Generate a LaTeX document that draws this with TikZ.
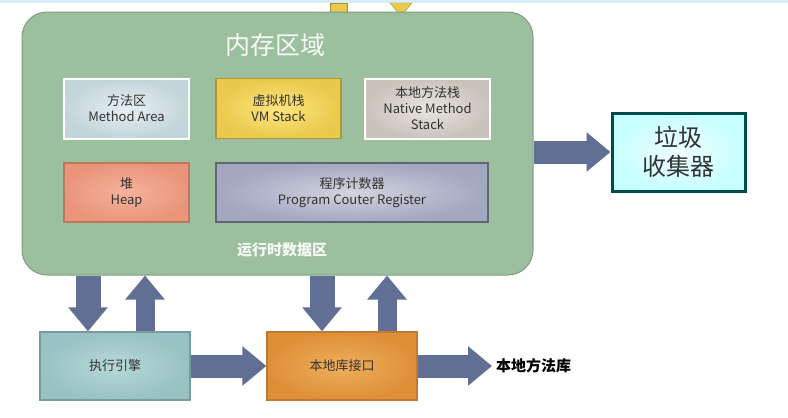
\documentclass[tikz,border=0pt]{standalone}
\usepackage{fontspec}
\setmainfont{Liberation Sans}
\newfontfamily\cjk{Noto Sans CJK SC}
\usetikzlibrary{arrows.meta,positioning}

\definecolor{memgreen}{HTML}{9CBF9E}
\definecolor{memedge}{HTML}{7F9C82}
\definecolor{arrowc}{HTML}{626F95}
\definecolor{topline}{HTML}{D6EEF8}
\definecolor{stubyel}{HTML}{E9CA4C}
\definecolor{areain}{HTML}{E6EFF1}
\definecolor{areaout}{HTML}{C3D5DA}
\definecolor{natin}{HTML}{E8E4DF}
\definecolor{natout}{HTML}{C9C3BC}
\definecolor{heapin}{HTML}{F4B39C}
\definecolor{heapout}{HTML}{EA957A}
\definecolor{pcin}{HTML}{D3D4DE}
\definecolor{pcout}{HTML}{A3A7C0}
\definecolor{ifin}{HTML}{EEAE5C}
\definecolor{ifout}{HTML}{DE9038}
\definecolor{engin}{HTML}{B6D8D8}
\definecolor{engout}{HTML}{98C2C3}

\begin{document}
\begin{tikzpicture}[x=1pt,y=-1pt,
  box/.style={draw, line width=1.2pt, minimum width=125pt, minimum height=60pt,
    align=center, text=black!80, font=\cjk\fontsize{13}{16}\selectfont},
  fat/.style={draw=arrowc, line width=#1, -{Triangle[width=38pt,length=24pt]}},
  fat/.default=23pt
]
  \useasboundingbox (0,0) rectangle (788,418);

  % screen edge and the cut-off shapes above
  \fill[topline] (0,0) rectangle (788,3);
  \filldraw[fill=stubyel, draw=stubyel!70!black] (330,3) rectangle (347,14);
  \filldraw[fill=stubyel, draw=stubyel!70!black] (390,3) -- (412,3) -- (401,16) -- cycle;

  % memory area
  \node[draw=memedge, fill=memgreen, line width=1pt, rounded corners=25pt,
        minimum width=511pt, minimum height=263pt] (memory) at (277.5,143.5) {};
  \node[text=white!92!memgreen, font=\cjk\fontsize{25}{29}\selectfont] (title) at (275,45) {内存区域};
  \node[text=white!92!memgreen, font=\cjk\bfseries\fontsize{15}{18}\selectfont] (runtime) at (282,250) {运行时数据区};

  % areas inside
  \node[box, draw=white!95!areain, line width=2pt, inner color=areain, outer color=areaout]
        (methodarea) at (126.5,108.5) {方法区\\Method Area};
  \node[box, draw=stubyel!75!black, inner color=yellow!60!orange!50, outer color=stubyel]
        (vmstack) at (278.5,108.5) {虚拟机栈\\VM Stack};
  \node[box, draw=white!95!natin, line width=2pt, inner color=natin, outer color=natout]
        (nativestack) at (427.5,108.5) {本地方法栈\\Native Method\\Stack};
  \node[box, minimum height=59pt, draw=heapout!80!black, inner color=heapin, outer color=heapout]
        (heap) at (126.5,192.5) {堆\\Heap};
  \node[box, minimum width=272pt, minimum height=59pt, draw=pcout!60!black,
        inner color=pcin, outer color=pcout]
        (pcreg) at (352,192.5) {程序计数器\\Program Couter Register};

  % outside
  \node[box, minimum width=133pt, minimum height=78pt, draw=teal!60!black, line width=3pt,
        inner color=cyan!6, outer color=cyan!22, font=\cjk\fontsize{24}{29}\selectfont]
        (gc) at (678.5,152) {垃圾\\收集器};
  \node[box, minimum width=150pt, minimum height=68pt, draw=engout!80!black,
        inner color=engin, outer color=engout] (engine) at (115,366) {执行引擎};
  \node[box, minimum width=150pt, minimum height=68pt, draw=ifout!85!black,
        inner color=ifin, outer color=ifout] (nativeif) at (342,366) {本地库接口};
  \node[anchor=west, inner xsep=4pt, font=\cjk\bfseries\fontsize{15}{18}\selectfont]
        (nativelib) at (492,366) {本地方法库};

  % fat arrows
  \draw[fat] (memory.east |- gc.west) -- (gc.west);
  \draw[fat=25pt] (memory.south -| 88,0) -- (engine.north -| 88,0);
  \draw[fat=19pt] (engine.north -| 145,0) -- (memory.south -| 145,0);
  \draw[fat=25pt] (memory.south -| 322,0) -- (nativeif.north -| 322,0);
  \draw[fat=19pt] (nativeif.north -| 387,0) -- (memory.south -| 387,0);
  \draw[fat] (engine.east) -- (nativeif.west);
  \draw[fat] (nativeif.east) -- (nativelib.west);

\end{tikzpicture}
\end{document}
